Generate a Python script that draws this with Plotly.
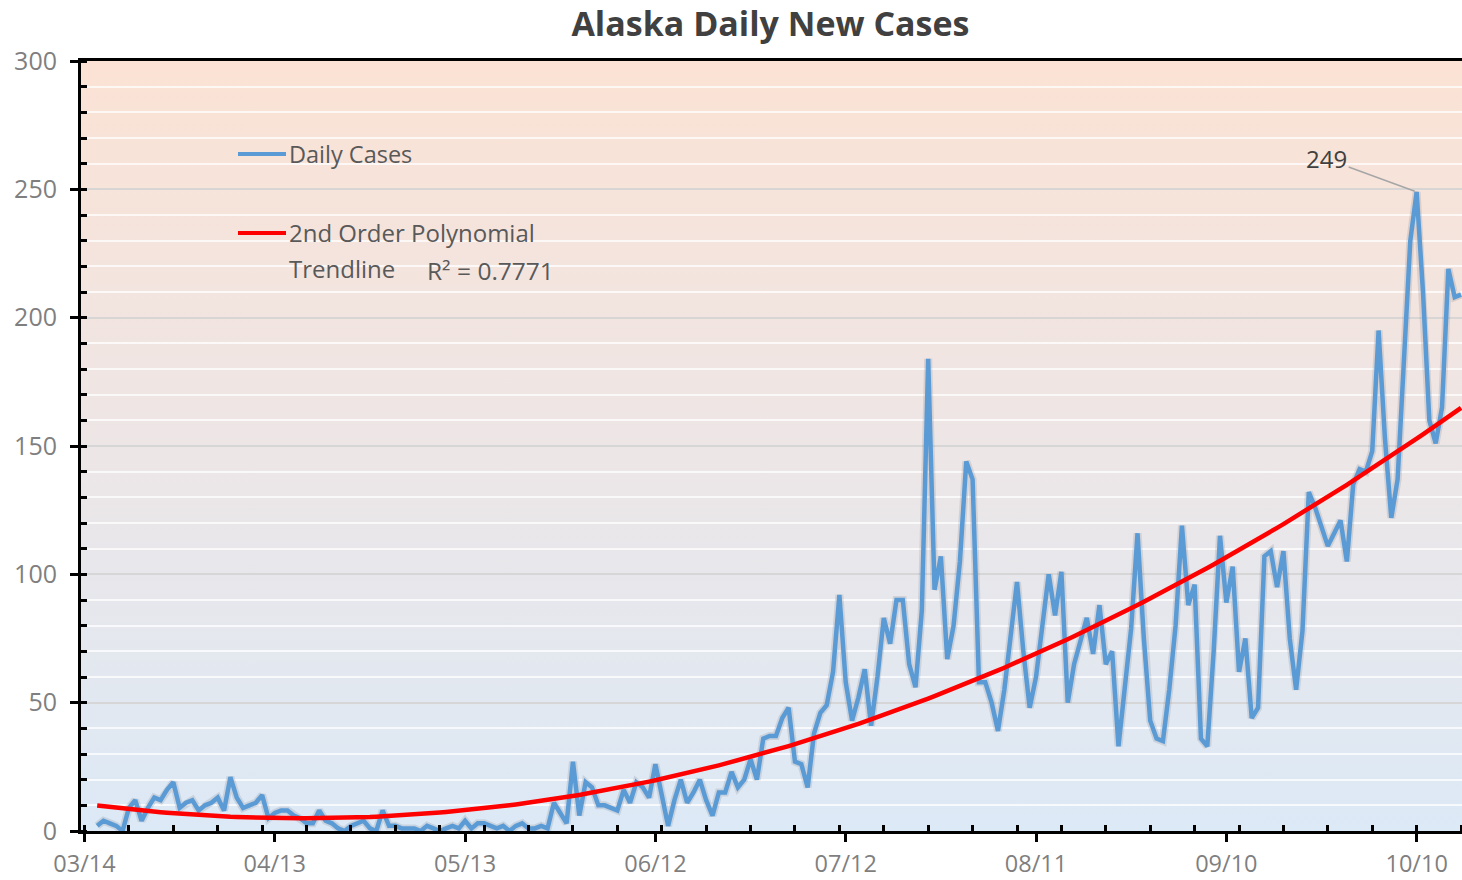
import base64
import datetime as dt
import numpy as np
import plotly.graph_objects as go

# ---------------- data ----------------
first_date = "2020-03-16"
daily_cases = [
    2, 4, 3, 2, 0, 9, 12, 4, 9, 13, 12, 16, 19, 9, 11, 12, 8, 10, 11, 13,
    8, 21, 13, 9, 10, 11, 14, 5, 7, 8, 8, 6, 5, 3, 3, 8, 4, 3, 1, 0,
    2, 3, 4, 1, 0, 8, 2, 2, 1, 1, 1, 0, 2, 1, 0, 1, 2, 1, 4, 1,
    3, 3, 2, 1, 2, 0, 2, 3, 1, 1, 2, 1, 11, 7, 3, 27, 6, 19, 17, 10,
    10, 9, 8, 16, 11, 19, 17, 13, 26, 14, 2, 12, 20, 11, 15, 20, 12, 6, 15, 15,
    23, 17, 20, 28, 20, 36, 37, 37, 44, 48, 27, 26, 17, 38, 46, 49, 62, 92, 58, 43,
    52, 63, 41, 60, 83, 73, 90, 90, 65, 56, 86, 184, 94, 107, 67, 80, 105, 144, 137, 58,
    58, 50, 39, 55, 75, 97, 70, 48, 60, 80, 100, 84, 101, 50, 65, 74, 83, 69, 88, 65,
    70, 33, 55, 79, 116, 75, 43, 36, 35, 55, 80, 119, 88, 96, 36, 33, 70, 115, 89, 103,
    62, 75, 44, 48, 107, 109, 95, 109, 75, 55, 78, 132, 126, 118, 111, 116, 121, 105, 135, 141,
    140, 148, 195, 153, 122, 137, 185, 230, 249, 210, 160, 151, 165, 219, 208, 209,
]
y_ticks = [0, 50, 100, 150, 200, 250, 300]
x_tick_start = "2020-03-14"
peak_label = "249"
r_squared_label = "R\u00b2 = 0.7771"

# ---------------- derived ----------------
d0 = dt.datetime.fromisoformat(first_date)
dates = [d0 + dt.timedelta(days=i) for i in range(len(daily_cases))]
t = np.arange(len(daily_cases), dtype=float)
coef = np.polyfit(t, np.array(daily_cases, dtype=float), 2)
trend = np.polyval(coef, t)

peak_idx = int(np.argmax(daily_cases))

# ---------------- geometry ----------------
W, H = 1462, 880
L, T, B, R = 81, 61, 49, 0
PW, PH = W - L - R, H - T - B


def px(xp):
    return (xp - L) / PW


def py(yp):
    return (H - B - yp) / PH


tick0 = dt.datetime.fromisoformat(x_tick_start)
x_range = [tick0 - dt.timedelta(days=0.55), tick0 + dt.timedelta(days=217.15)]
DAY_MS = 86400000

GRAY = "#7f7f7f"
TXT = "#595959"
FONT = "Open Sans"

fig = go.Figure()

# subtle shadow under the daily line
fig.add_trace(go.Scatter(
    x=dates, y=daily_cases, mode="lines",
    line=dict(color="rgba(60,60,80,0.13)", width=8),
    hoverinfo="skip", showlegend=False,
))
fig.add_trace(go.Scatter(
    x=dates, y=daily_cases, mode="lines", name="Daily Cases",
    line=dict(color="#5B9BD5", width=4.5), showlegend=False,
))
fig.add_trace(go.Scatter(
    x=dates, y=trend, mode="lines", name="2nd Order Polynomial Trendline",
    line=dict(color="#FF0000", width=4.5), showlegend=False,
))

# gradient background
svg = ('<svg xmlns="http://www.w3.org/2000/svg" width="100" height="100" preserveAspectRatio="none">'
       '<defs><linearGradient id="g" x1="0" y1="0" x2="0" y2="1">'
       '<stop offset="0" stop-color="#FBE2D4"/>'
       '<stop offset="0.5" stop-color="#EDE6E6"/>'
       '<stop offset="1" stop-color="#DCE9F6"/>'
       '</linearGradient></defs><rect width="100" height="100" fill="url(#g)"/></svg>')
src = "data:image/svg+xml;base64," + base64.b64encode(svg.encode()).decode()

# legend (manual)
legend_shapes = [
    dict(type="line", xref="paper", yref="paper", x0=px(238), x1=px(286), y0=py(154), y1=py(154),
         line=dict(color="#5B9BD5", width=4)),
    dict(type="line", xref="paper", yref="paper", x0=px(238), x1=px(286), y0=py(233), y1=py(233),
         line=dict(color="#FF0000", width=4)),
]


def note(text, xp, yp, size=24, color=TXT, xanchor="left"):
    return dict(text=text, xref="paper", yref="paper", x=px(xp), y=py(yp), xanchor=xanchor,
                yanchor="middle", showarrow=False, font=dict(family=FONT, size=size, color=color))


annotations = [
    note("Daily Cases", 287, 154, size=23.5),
    note("2nd Order Polynomial", 287, 233),
    note("Trendline", 287, 268),
    note(r_squared_label, 425, 270, size=24.5),
    dict(text=peak_label, x=dates[peak_idx], y=daily_cases[peak_idx], xref="x", yref="y",
         showarrow=True, arrowhead=0, arrowwidth=1.5, arrowcolor="#a6a6a6",
         ax=-90, ay=-33, standoff=2, font=dict(family=FONT, size=24, color="#404040")),
]

fig.update_layout(
    width=W, height=H,
    margin=dict(l=L, r=R, t=T, b=B, pad=0, autoexpand=False),
    paper_bgcolor="white",
    plot_bgcolor="rgba(0,0,0,0)",
    title=dict(text="<b>Alaska Daily New Cases</b>", x=0.527, xref="container", xanchor="center",
               y=1 - 24 / H, yref="container", yanchor="middle", automargin=False,
               font=dict(family=FONT, size=34, color="#404040")),
    images=[dict(source=src, xref="paper", yref="paper", x=0, y=1, sizex=1, sizey=1,
                 xanchor="left", yanchor="top", sizing="stretch", layer="below")],
    shapes=legend_shapes,
    annotations=annotations,
    showlegend=False,
    xaxis=dict(
        type="date", range=x_range, tick0=tick0, dtick=30 * DAY_MS, tickformat="%m/%d",
        showgrid=False, zeroline=False, automargin=False,
        showline=True, linecolor="black", linewidth=3, mirror=True,
        ticks="outside", ticklen=8, tickwidth=3, tickcolor="black",
        tickfont=dict(family=FONT, size=23.5, color=GRAY), ticklabelstandoff=2,
        minor=dict(ticks="inside", ticklen=6, tickwidth=3, tickcolor="black",
                   tick0=tick0, dtick=7 * DAY_MS, showgrid=False),
    ),
    yaxis=dict(
        range=[0, 300], tickvals=y_ticks, zeroline=False, automargin=False,
        showline=True, linecolor="black", linewidth=3,
        ticks="outside", ticklen=8, tickwidth=3, tickcolor="black",
        tickfont=dict(family=FONT, size=25, color=GRAY), ticklabelstandoff=8,
        showgrid=True, gridcolor="rgba(185,185,185,0.55)", gridwidth=1.5,
        minor=dict(ticks="inside", ticklen=6, tickwidth=3, tickcolor="black", dtick=10,
                   showgrid=True, gridcolor="rgba(255,255,255,0.75)", gridwidth=2),
    ),
)

fig.write_html("out.html", config={"displayModeBar": False},
               post_script="document.body.style.margin='0';document.body.style.overflow='hidden';")
